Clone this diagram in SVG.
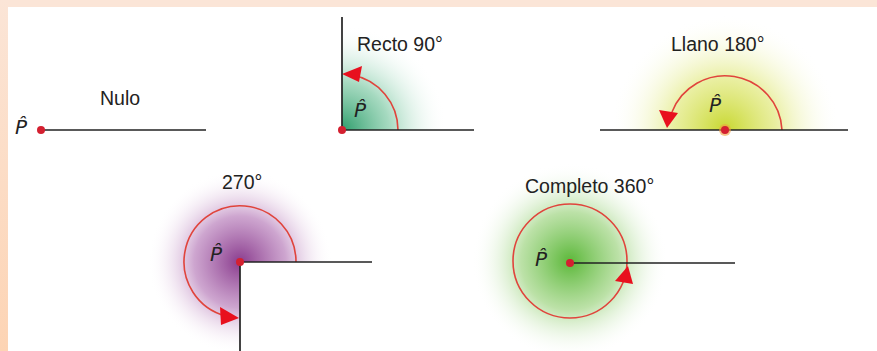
<svg xmlns="http://www.w3.org/2000/svg" width="877" height="351" viewBox="0 0 877 351">
<defs>
<linearGradient id="band" x1="0" y1="0" x2="0" y2="1">
<stop offset="0" stop-color="#fbe5d7"/><stop offset="1" stop-color="#fdd4b4"/>
</linearGradient>
<radialGradient id="gGreen" gradientUnits="userSpaceOnUse" cx="342" cy="130" r="105">
<stop offset="0" stop-color="#2e9e6c"/><stop offset="0.45" stop-color="#8fd0b0" stop-opacity="0.8"/><stop offset="1" stop-color="#ffffff" stop-opacity="0"/>
</radialGradient>
<radialGradient id="gYellow" gradientUnits="userSpaceOnUse" cx="725" cy="130" r="115">
<stop offset="0" stop-color="#c8d830"/><stop offset="0.45" stop-color="#e4eb8a" stop-opacity="0.8"/><stop offset="1" stop-color="#ffffff" stop-opacity="0"/>
</radialGradient>
<radialGradient id="gPurple" gradientUnits="userSpaceOnUse" cx="240" cy="262" r="92">
<stop offset="0" stop-color="#8a3c8e"/><stop offset="0.5" stop-color="#c596c7" stop-opacity="0.85"/><stop offset="1" stop-color="#ffffff" stop-opacity="0"/>
</radialGradient>
<radialGradient id="gLime" gradientUnits="userSpaceOnUse" cx="570" cy="261" r="98">
<stop offset="0" stop-color="#5cb83a"/><stop offset="0.5" stop-color="#b0dc98" stop-opacity="0.85"/><stop offset="1" stop-color="#ffffff" stop-opacity="0"/>
</radialGradient>
</defs>
<style>
.ray{stroke:#222;stroke-width:1.7;fill:none}
.arc{stroke:#e0443c;stroke-width:1.6;fill:none}
.head{fill:#e8101e}
.dot{fill:#d42030}
.lbl{font-family:"Liberation Sans",Arial,sans-serif;font-size:19.5px;fill:#222}
.p{font-family:"DejaVu Sans","Liberation Sans",sans-serif;font-size:20px;font-style:italic;fill:#222}
</style>
<rect x="0" y="0" width="877" height="351" fill="#ffffff"/>
<rect x="0" y="0" width="877" height="7" fill="#fbe5d7"/>
<rect x="0" y="0" width="8" height="351" fill="url(#band)"/>

<g id="nulo">
<line class="ray" x1="41" y1="130" x2="206" y2="130"/>
<circle class="dot" cx="41" cy="130" r="4"/>
<text class="p" x="15" y="134">P&#x302;</text>
<text class="lbl" x="100" y="105">Nulo</text>
</g>

<g id="recto">
<path d="M342,130 L342,25 A105,105 0 0 1 447,130 Z" fill="url(#gGreen)"/>
<path class="arc" d="M398,130 A56,56 0 0 0 352,75"/>
<polygon class="head" points="342,74 362,66 359,82"/>
<line class="ray" x1="342" y1="17" x2="342" y2="130"/>
<line class="ray" x1="342" y1="130" x2="474" y2="130"/>
<circle class="dot" cx="342" cy="130" r="4"/>
<text class="p" x="354" y="117">P&#x302;</text>
<text class="lbl" x="357" y="51">Recto 90°</text>
</g>

<g id="llano">
<path d="M610,130 A115,115 0 0 1 840,130 Z" fill="url(#gYellow)"/>
<path class="arc" d="M782,130 A57,57 0 0 0 672,112"/>
<polygon class="head" points="667,128 659,110 678,113"/>
<line class="ray" x1="600" y1="130" x2="848" y2="130"/>
<circle cx="725" cy="130" r="6" fill="#f0a040" opacity="0.6"/>
<circle class="dot" cx="725" cy="130" r="4"/>
<text class="p" x="709" y="112">P&#x302;</text>
<text class="lbl" x="671" y="51">Llano 180°</text>
</g>

<g id="a270">
<path d="M240,262 L332,262 A92,92 0 1 0 240,354 Z" fill="url(#gPurple)"/>
<path class="arc" d="M296,262 A56,56 0 1 0 226,316"/>
<polygon class="head" points="239,318 220,307 221,325"/>
<line class="ray" x1="240" y1="262" x2="372" y2="262"/>
<line class="ray" x1="240" y1="262" x2="240" y2="351"/>
<circle class="dot" cx="240" cy="262" r="4"/>
<text class="p" x="210" y="261">P&#x302;</text>
<text class="lbl" x="222" y="189">270°</text>
</g>

<g id="completo">
<circle cx="570" cy="261" r="98" fill="url(#gLime)"/>
<circle class="arc" cx="570" cy="261" r="57"/>
<polygon class="head" points="628,266 615,281 633,284"/>
<line class="ray" x1="570" y1="263" x2="735" y2="263"/>
<circle class="dot" cx="570" cy="263" r="4"/>
<text class="p" x="535" y="266">P&#x302;</text>
<text class="lbl" x="525" y="193">Completo 360°</text>
</g>
</svg>
